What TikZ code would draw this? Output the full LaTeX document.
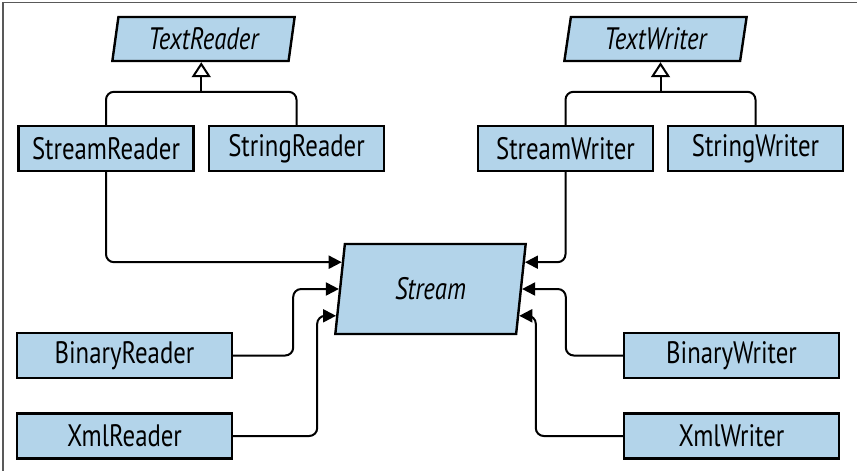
\documentclass[tikz,border=0pt]{standalone}
\usepackage{fontspec}
\setmainfont[FakeStretch=0.8]{PT Sans}
\usepackage{tikz}
\usetikzlibrary{arrows.meta,calc,shapes.geometric}
\definecolor{boxblue}{RGB}{179,212,234}

\begin{document}
\begin{tikzpicture}[x=0.5pt,y=-0.5pt,
	box/.style={draw=black,line width=1.2pt,fill=boxblue,minimum width=87.5pt,minimum height=22.5pt,inner sep=0pt,font=\fontsize{15.5}{17}\selectfont},
	widebox/.style={box,minimum width=107.5pt},
	abstract/.style={box,trapezium,trapezium left angle=80,trapezium right angle=100,trapezium stretches=true,font=\fontsize{15.5}{17}\selectfont\itshape},
	link/.style={line width=1pt,rounded corners=4pt,-{Triangle[length=6.5pt,width=6.5pt]}},
	inherit/.style={line width=1pt,-{Triangle[open,fill=white,length=7.5pt,width=9.5pt]}}]
			\useasboundingbox (0,0) rectangle (857,471);
			\draw[black!65,line width=0.75pt] (3,471) -- (3,2.5) -- (857,2.5);
			\node[abstract,minimum width=91.5pt,minimum height=22pt] (textreader) at (203.5,39) {TextReader};
			\node[abstract,minimum width=91.5pt,minimum height=22pt] (textwriter) at (655.5,39) {TextWriter};
			\node[abstract,minimum width=95.5pt,minimum height=45pt] (stream) at (430.5,289) {Stream};
			\foreach \n/\t/\x in {streamreader/StreamReader/106,stringreader/StringReader/296.5,streamwriter/StreamWriter/565.5,stringwriter/StringWriter/755.5}
				\node[box] (\n) at (\x,148.5) {\t};
			\foreach \n/\t/\x/\y in {binaryreader/BinaryReader/124.5/355.5,xmlreader/XmlReader/124.5/436,binarywriter/BinaryWriter/731.5/355.5,xmlwriter/XmlWriter/731.5/436}
				\node[widebox] (\n) at (\x,\y) {\t};
			\foreach \i/\f in {1/0.21,2/0.5,3/0.79}{
				\coordinate (sl\i) at ($(stream.top left corner)!\f!(stream.bottom left corner)$);
				\coordinate (sr\i) at ($(stream.top right corner)!\f!(stream.bottom right corner)$);
			}
			\draw[line width=1pt,rounded corners=4pt] (streamreader.north) -- ++(0,-33) -| (stringreader.north);
			\draw[line width=1pt,rounded corners=4pt] (streamwriter.north) -- ++(0,-33) -| (stringwriter.north);
			\coordinate (rjoin) at ($(streamreader.north)!0.5!(stringreader.north)+(0,-33)$);
			\coordinate (wjoin) at ($(streamwriter.north)!0.5!(stringwriter.north)+(0,-33)$);
			\draw[inherit] (rjoin) -- (rjoin |- textreader.bottom side);
			\draw[inherit] (wjoin) -- (wjoin |- textwriter.bottom side);
			\draw[link] (streamreader.south) |- (sl1);
			\draw[link] (binaryreader.east) -- ++(60,0) |- (sl2);
			\draw[link] (xmlreader.east) -- ++(84,0) |- (sl3);
			\draw[link] (streamwriter.south) |- (sr1);
			\draw[link] (binarywriter.west) -- ++(-57,0) |- (sr2);
			\draw[link] (xmlwriter.west) -- ++(-87,0) |- (sr3);
		\end{tikzpicture}
\end{document}
